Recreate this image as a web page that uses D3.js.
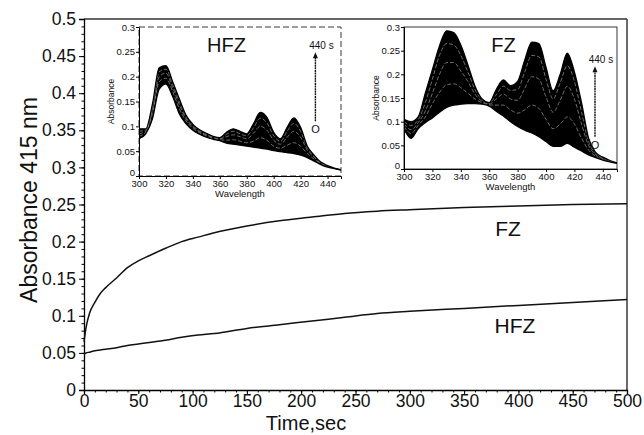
<!DOCTYPE html>
<html>
<head>
<meta charset="utf-8">
<script src="https://cdn.jsdelivr.net/npm/d3@7"></script>
<style>
  body { margin: 0; background: #fff; }
  text { font-family: "Liberation Sans", Arial, sans-serif; fill: #111; }
</style>
</head>
<body>
<svg width="644" height="435"></svg>
<script>
// kinetic traces at 415 nm
var times = [0, 2, 5, 10, 15, 20, 30, 40, 50, 60, 75, 90, 105, 120, 150, 180, 210, 240, 270, 300, 350, 400, 450, 500];
var fzTrace = [0.065, 0.085, 0.103, 0.118, 0.13, 0.138, 0.151, 0.165, 0.174, 0.181, 0.191, 0.2, 0.206, 0.212, 0.221, 0.228, 0.233, 0.238, 0.241, 0.243, 0.246, 0.248, 0.25, 0.251];
var hfzTrace = [0.048, 0.05, 0.051, 0.053, 0.054, 0.055, 0.057, 0.06, 0.062, 0.064, 0.067, 0.071, 0.074, 0.076, 0.083, 0.088, 0.093, 0.098, 0.103, 0.106, 0.11, 0.114, 0.118, 0.122];

// inset spectra (0 s ... 440 s)
var wavelengths = [300, 305, 310, 315, 320, 325, 330, 335, 340, 345, 350, 355, 360, 365, 370, 375, 380, 385, 390, 395, 400, 405, 410, 415, 420, 425, 430, 435, 440, 445, 450];
var hfz0   = [0.075, 0.085, 0.115, 0.175, 0.185, 0.16, 0.125, 0.105, 0.092, 0.084, 0.078, 0.074, 0.071, 0.066, 0.064, 0.062, 0.06, 0.058, 0.056, 0.054, 0.051, 0.049, 0.047, 0.045, 0.042, 0.037, 0.03, 0.023, 0.018, 0.015, 0.012];
var hfzA   = [0.08, 0.088, 0.125, 0.19, 0.197, 0.17, 0.135, 0.111, 0.096, 0.087, 0.081, 0.076, 0.073, 0.072, 0.073, 0.07, 0.067, 0.07, 0.077, 0.072, 0.06, 0.056, 0.062, 0.067, 0.06, 0.045, 0.034, 0.025, 0.019, 0.015, 0.012];
var hfzB   = [0.085, 0.09, 0.133, 0.2, 0.207, 0.178, 0.143, 0.115, 0.099, 0.089, 0.083, 0.078, 0.075, 0.079, 0.083, 0.079, 0.075, 0.086, 0.1, 0.092, 0.072, 0.064, 0.078, 0.09, 0.078, 0.052, 0.038, 0.026, 0.02, 0.016, 0.012];
var hfzC   = [0.09, 0.093, 0.14, 0.21, 0.215, 0.185, 0.15, 0.119, 0.102, 0.091, 0.085, 0.079, 0.076, 0.084, 0.09, 0.085, 0.081, 0.097, 0.116, 0.107, 0.081, 0.07, 0.09, 0.106, 0.09, 0.057, 0.04, 0.027, 0.02, 0.016, 0.013];
var hfz440 = [0.095, 0.095, 0.145, 0.218, 0.222, 0.19, 0.155, 0.122, 0.104, 0.093, 0.086, 0.08, 0.077, 0.088, 0.095, 0.09, 0.085, 0.105, 0.128, 0.118, 0.088, 0.075, 0.098, 0.117, 0.098, 0.06, 0.042, 0.028, 0.021, 0.016, 0.013];
var fz0    = [0.085, 0.065, 0.085, 0.098, 0.108, 0.12, 0.13, 0.135, 0.137, 0.138, 0.138, 0.137, 0.133, 0.122, 0.112, 0.1, 0.09, 0.082, 0.076, 0.068, 0.058, 0.048, 0.048, 0.054, 0.046, 0.038, 0.03, 0.024, 0.019, 0.015, 0.012];
var fzA    = [0.09, 0.075, 0.092, 0.11, 0.138, 0.162, 0.178, 0.18, 0.172, 0.16, 0.148, 0.14, 0.135, 0.135, 0.135, 0.125, 0.118, 0.125, 0.135, 0.128, 0.105, 0.085, 0.095, 0.11, 0.095, 0.065, 0.04, 0.027, 0.02, 0.016, 0.012];
var fzB    = [0.095, 0.083, 0.098, 0.122, 0.16, 0.2, 0.225, 0.225, 0.207, 0.185, 0.158, 0.143, 0.137, 0.148, 0.158, 0.148, 0.145, 0.17, 0.195, 0.19, 0.152, 0.12, 0.145, 0.175, 0.148, 0.095, 0.05, 0.03, 0.022, 0.017, 0.012];
var fzC    = [0.1, 0.092, 0.104, 0.14, 0.19, 0.24, 0.265, 0.262, 0.24, 0.205, 0.168, 0.146, 0.139, 0.157, 0.175, 0.166, 0.168, 0.205, 0.24, 0.237, 0.19, 0.148, 0.182, 0.218, 0.185, 0.12, 0.058, 0.033, 0.024, 0.017, 0.013];
var fz440  = [0.105, 0.1, 0.11, 0.16, 0.21, 0.26, 0.292, 0.288, 0.262, 0.22, 0.175, 0.148, 0.14, 0.168, 0.188, 0.176, 0.185, 0.23, 0.268, 0.265, 0.215, 0.165, 0.2, 0.245, 0.205, 0.14, 0.065, 0.035, 0.025, 0.018, 0.013];

var insetXTicks = [300, 320, 340, 360, 380, 400, 420, 440];
var insetYTicks = [0, 0.05, 0.1, 0.15, 0.2, 0.25, 0.3];

var svg = d3.select("svg");

// ---- main chart
var x = d3.scaleLinear().domain([0, 500]).range([84, 627]);
var y = d3.scaleLinear().domain([0, 0.5]).range([390, 19]);

// frame top/right
svg.append("line").attr("x1", x(0)).attr("x2", x(500)).attr("y1", y(0.5)).attr("y2", y(0.5))
    .attr("stroke", "#333").attr("stroke-width", 1.3);
svg.append("line").attr("x1", x(500)).attr("x2", x(500)).attr("y1", y(0.5)).attr("y2", y(0))
    .attr("stroke", "#444").attr("stroke-width", 1.6);

// minor ticks
svg.append("g").attr("transform", "translate(0," + y(0) + ")")
    .call(d3.axisBottom(x).ticks(50).tickSize(2.5).tickFormat(""))
    .call(g => g.select(".domain").remove());
svg.append("g").attr("transform", "translate(" + x(0) + ",0)")
    .call(d3.axisLeft(y).ticks(50).tickSize(2.5).tickFormat(""))
    .call(g => g.select(".domain").remove());

var xAxis = svg.append("g").attr("transform", "translate(0," + y(0) + ")")
    .call(d3.axisBottom(x).tickValues(d3.range(0, 501, 50)).tickSize(4).tickPadding(1));
var yAxis = svg.append("g").attr("transform", "translate(" + x(0) + ",0)")
    .call(d3.axisLeft(y).tickValues(d3.range(0, 0.5001, 0.05)).tickSize(5).tickPadding(3)
        .tickFormat(d => +d.toFixed(2)));
[xAxis, yAxis].forEach(function(a){
    a.selectAll("text").style("font-size", "17.5px").style("font-family", "Liberation Sans, Arial");
    a.select(".domain").attr("stroke-width", 1.3);
});

svg.append("text").attr("x", 306).attr("y", 430).attr("text-anchor", "middle")
    .style("font-size", "20px").text("Time,sec");
svg.append("text").attr("transform", "translate(37,200) rotate(-90)").attr("text-anchor", "middle")
    .style("font-size", "23px").text("Absorbance 415 nm");

var line = d3.line().x((d, i) => x(times[i])).y(d => y(d)).curve(d3.curveMonotoneX);
svg.append("path").datum(fzTrace).attr("d", line).attr("fill", "none").attr("stroke", "#111").attr("stroke-width", 1.5);
svg.append("path").datum(hfzTrace).attr("d", line).attr("fill", "none").attr("stroke", "#111").attr("stroke-width", 1.5);

svg.append("text").attr("x", 508).attr("y", 236).attr("text-anchor", "middle").style("font-size", "21px").text("FZ");
svg.append("text").attr("x", 515).attr("y", 333).attr("text-anchor", "middle").style("font-size", "21px").text("HFZ");

// ---- insets
function inset(opts) {
    var ix = d3.scaleLinear().domain([300, 450]).range(opts.xr);
    var iy = d3.scaleLinear().domain([0, 0.3]).range(opts.yr);
    var g = svg.append("g");
    var id = "clip" + opts.name;
    g.append("clipPath").attr("id", id).append("rect")
        .attr("x", ix(300)).attr("y", iy(0.3)).attr("width", ix(450) - ix(300)).attr("height", iy(0) - iy(0.3));

    g.append("rect").attr("x", ix(300)).attr("y", iy(0.3)).attr("width", ix(450) - ix(300)).attr("height", iy(0) - iy(0.3))
        .attr("fill", "#fff").attr("stroke", "#222").attr("stroke-width", 0.9)
        .attr("stroke-dasharray", opts.dashed ? "6,3" : null);

    var plot = g.append("g").attr("clip-path", "url(#" + id + ")");
    var area = d3.area().x((d, i) => ix(wavelengths[i])).y0((d, i) => iy(opts.low[i])).y1(d => iy(d)).curve(d3.curveMonotoneX);
    var ln = d3.line().x((d, i) => ix(wavelengths[i])).y(d => iy(d)).curve(d3.curveMonotoneX);
    plot.append("path").datum(opts.high).attr("d", area).attr("fill", "#000");
    opts.mids.forEach(function(s){
        plot.append("path").datum(s).attr("d", ln).attr("fill", "none").attr("stroke", "#fff")
            .attr("stroke-width", 0.5).attr("stroke-opacity", 0.85).attr("stroke-dasharray", "4,2");
    });
    [opts.low, opts.high].forEach(function(s){
        plot.append("path").datum(s).attr("d", ln).attr("fill", "none").attr("stroke", "#000").attr("stroke-width", 1.3);
    });

    var ax = g.append("g").attr("transform", "translate(0," + iy(0) + ")")
        .call(d3.axisBottom(ix).tickValues(insetXTicks).tickSize(3).tickPadding(1));
    var ay = g.append("g").attr("transform", "translate(" + ix(300) + ",0)")
        .call(d3.axisLeft(iy).tickValues(insetYTicks).tickSize(3).tickPadding(1).tickFormat(d => +d.toFixed(2)));
    [ax, ay].forEach(function(a){
        a.selectAll("text").style("font-size", "9.5px").style("font-family", "Liberation Sans, Arial");
    });
    ay.selectAll(".tick").filter(d => d === 0).select("text").attr("dy", "-0.05em");
    g.append("text").attr("x", (ix(300) + ix(450)) / 2).attr("y", iy(0) + 21).attr("text-anchor", "middle")
        .style("font-size", "9.5px").text("Wavelength");
    g.append("text").attr("transform", "translate(" + (ix(300) - 25) + "," + iy(0.15) + ") rotate(-90)")
        .attr("text-anchor", "middle").style("font-size", "8.5px").text("Absorbance");

    g.append("text").attr("x", ix(opts.labelX)).attr("y", iy(0.3) + 25).attr("text-anchor", "middle")
        .style("font-size", "20px").text(opts.name);

    // time arrow
    var ax0 = ix(opts.arrowX);
    g.append("line").attr("x1", ax0).attr("x2", ax0).attr("y1", iy(opts.arrowLow)).attr("y2", iy(opts.arrowHigh) + 3)
        .attr("stroke", "#111").attr("stroke-width", 1.4).attr("stroke-dasharray", "2,0.6");
    g.append("path").attr("d", "M" + (ax0 - 2.5) + "," + (iy(opts.arrowHigh) + 4) + "L" + ax0 + "," + (iy(opts.arrowHigh) - 2) + "L" + (ax0 + 2.5) + "," + (iy(opts.arrowHigh) + 4) + "Z")
        .attr("fill", "#111");
    g.append("text").attr("x", ax0 + 6).attr("y", iy(opts.arrowHigh) - 5).attr("text-anchor", "middle")
        .style("font-size", "10px").text("440 s");
    g.append("text").attr("x", ax0).attr("y", iy(opts.arrowLow) + 12).attr("text-anchor", "middle")
        .style("font-size", "11px").text("O");
}

inset({ name: "HFZ", xr: [139, 341], yr: [176, 27], low: hfz0, high: hfz440, mids: [hfzA, hfzB, hfzC],
    labelX: 365, arrowX: 431, arrowLow: 0.11, arrowHigh: 0.245, dashed: true });
inset({ name: "FZ", xr: [404, 617], yr: [169, 27], low: fz0, high: fz440, mids: [fzA, fzB, fzC],
    labelX: 370, arrowX: 434.5, arrowLow: 0.068, arrowHigh: 0.213, dashed: false });
</script>
</body>
</html>
